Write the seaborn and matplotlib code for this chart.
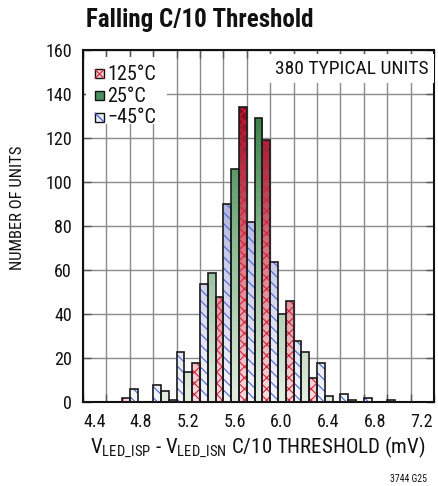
import numpy as np
import pandas as pd
import matplotlib
matplotlib.use("Agg")
import matplotlib.pyplot as plt
from matplotlib import font_manager
from matplotlib.colors import LinearSegmentedColormap, to_rgba
from matplotlib.patches import Rectangle
from matplotlib.lines import Line2D
import seaborn as sns

# ---------------- data ----------------
bin_left = [4.4, 4.6, 4.8, 5.0, 5.2, 5.4, 5.6, 5.8, 6.0, 6.2, 6.4, 6.6, 6.8, 7.0, 7.2]
units_m45 = [0, 0, 6, 8, 23, 54, 90, 82, 64, 28, 18, 4, 2, 1, 0]
units_25 = [0, 0, 0, 5, 14, 59, 106, 129, 40, 23, 3, 1, 0, 0, 0]
units_125 = [0, 2, 0, 1, 18, 48, 134, 119, 46, 11, 0, 0, 0, 0, 0]
temps = ["\u221245\u00b0C", "25\u00b0C", "125\u00b0C"]
x_ticks = [4.4, 4.8, 5.2, 5.6, 6.0, 6.4, 6.8, 7.2]
y_ticks = [0, 20, 40, 60, 80, 100, 120, 140, 160]

rows = []
for series, t in zip([units_m45, units_25, units_125], temps):
    for b, v in zip(bin_left, series):
        if v > 0:
            rows.append({"center": round(b + 0.1, 2), "temp": t, "count": v})
df = pd.DataFrame(rows)

# ---------------- style ----------------
sns.set_style("white")
installed = {f.name for f in font_manager.fontManager.ttflist}
narrow = None
for cand in ["Liberation Sans Narrow", "DejaVu Sans Condensed", "Roboto Condensed", "Open Sans Condensed"]:
    if cand in installed:
        narrow = cand
        break
if narrow:
    plt.rcParams["font.family"] = [narrow, "DejaVu Sans"]
    FS_TICK, FS_LEG, FS_NOTE, FS_TITLE, FS_YL, FS_XL = 13, 14.5, 14, 18, 12, 15
else:
    plt.rcParams["font.family"] = ["Liberation Sans", "DejaVu Sans"]
    FS_TICK, FS_LEG, FS_NOTE, FS_TITLE, FS_YL, FS_XL = 12, 13, 12, 15.5, 10.5, 12
plt.rcParams["mathtext.fontset"] = "custom"
plt.rcParams["hatch.linewidth"] = 0.8

fig = plt.figure(figsize=(4.38, 4.86), dpi=100)
ax = fig.add_axes([83 / 438, 1 - 402.3 / 486, (434 - 83) / 438, (402.3 - 50.3) / 486])

sns.barplot(data=df, x="center", y="count", hue="temp", hue_order=temps,
            native_scale=True, width=1.0, dodge=True, ax=ax, legend=False,
            palette=["#a0a8d8", "#4a9060", "#c03050"], errorbar=None)

cmaps = {
    temps[0]: LinearSegmentedColormap.from_list("b", ["#f6f6fc", "#c4c9e8", "#7c84c4"]),
    temps[1]: LinearSegmentedColormap.from_list("g", ["#e4eee2", "#8ebb94", "#2c7a3e"]),
    temps[2]: LinearSegmentedColormap.from_list("r", ["#f9dde0", "#d8707e", "#7e0018"]),
}
hatches = {temps[0]: "\\\\\\", temps[1]: "", temps[2]: "xxx"}
hatch_col = {temps[0]: "#4a66d4", temps[1]: "#000000", temps[2]: "#d0203c"}
GMAX = 140.0

for cont, t in zip(ax.containers, temps):
    for bar in cont:
        h = bar.get_height()
        x0 = bar.get_x()
        x1 = x0 + bar.get_width()
        grad = np.linspace(0, min(h / GMAX, 1.0), 128).reshape(-1, 1)
        im = ax.imshow(grad, extent=[x0, x1, 0, h], origin="lower", cmap=cmaps[t],
                       vmin=0, vmax=1, aspect="auto", interpolation="bilinear", zorder=2)
        im.set_clip_path(bar)
        bar.set_facecolor("none")
        bar.set_edgecolor("#1a1a1a")
        bar.set_linewidth(1.2)
        bar.set_zorder(3)
        if hatches[t]:
            bar.set_hatch(hatches[t])
            bar._hatch_color = to_rgba(hatch_col[t])

# ---------------- axes ----------------
ax.set_xlim(4.4, 7.4)
ax.set_ylim(0, 160)
ax.set_aspect("auto")
ax.set_xticks(x_ticks)
ax.set_xticks(np.arange(4.6, 7.4, 0.4), minor=True)
ax.set_xticklabels([f"{v:.1f}" for v in x_ticks])
ax.set_yticks(y_ticks)
ax.set_yticklabels([str(v) for v in y_ticks])
for lab in ax.get_xticklabels():
    lab.set_horizontalalignment("left")
ax.tick_params(axis="both", which="both", direction="in", length=6, width=1.0,
               color="#555555", top=True, right=True, bottom=True, left=True,
               labelsize=FS_TICK, labelcolor="#111111")
ax.tick_params(axis="x", which="major", pad=8)
ax.tick_params(axis="y", which="major", pad=8)
ax.set_axisbelow(True)
ax.grid(True, which="both", axis="x", color="#8a8a8a", linewidth=1.0)
ax.grid(True, which="major", axis="y", color="#8a8a8a", linewidth=1.0)
for s in ax.spines.values():
    s.set_visible(True)
    s.set_color("#111111")
    s.set_linewidth(1.5)
ax.set_xlabel("")
ax.set_ylabel("")

# ---------------- legend (manual) ----------------
fx = lambda px: px / 438
fy = lambda py: 1 - py / 486
ax.add_patch(Rectangle((fx(86), fy(124)), 81 / 438, 67 / 486, transform=fig.transFigure,
                       facecolor="white", edgecolor="none", zorder=4))
leg_rows = [(temps[2], 74.0), (temps[1], 96.0), (temps[0], 117.5)]
leg_face = {temps[0]: "#eef0fa", temps[1]: "#4a9060", temps[2]: "#f6c8cc"}
for t, yc in leg_rows:
    x0p, x1p = 95, 104
    y0p, y1p = yc - 4.5, yc + 4.5
    fig.add_artist(Rectangle((fx(x0p), fy(y1p)), fx(x1p) - fx(x0p), fy(y0p) - fy(y1p),
                             transform=fig.transFigure, facecolor=leg_face[t],
                             edgecolor="#111111", linewidth=1.0, zorder=6))
    if t == temps[2]:
        fig.add_artist(Line2D([fx(x0p), fx(x1p)], [fy(y0p), fy(y1p)], transform=fig.transFigure,
                              color="#d0203c", linewidth=0.8, zorder=7))
        fig.add_artist(Line2D([fx(x0p), fx(x1p)], [fy(y1p), fy(y0p)], transform=fig.transFigure,
                              color="#d0203c", linewidth=0.8, zorder=7))
    elif t == temps[0]:
        fig.add_artist(Line2D([fx(x0p), fx(x1p)], [fy(y0p), fy(y1p)], transform=fig.transFigure,
                              color="#3a58d0", linewidth=0.9, zorder=7))
    fig.text(fx(107), fy(yc), t, ha="left", va="center", fontsize=FS_LEG, color="#111111", zorder=7)

# ---------------- annotations ----------------
ax.text(0.983, 0.948, "380 TYPICAL UNITS", transform=ax.transAxes, ha="right", va="center",
        fontsize=FS_NOTE, color="#111111", zorder=5,
        bbox=dict(boxstyle="square,pad=0.3", facecolor="white", edgecolor="none"))

fig.text(fx(86), fy(27.3), "Falling C/10 Threshold", ha="left", va="baseline",
         fontsize=FS_TITLE, fontweight="bold", color="#111111")
fig.text(fx(18), fy(208), "NUMBER OF UNITS", rotation=90, ha="center", va="center",
         fontsize=FS_YL, color="#111111")
fig.text(fx(258), fy(453.3),
         r"V$_{\mathregular{LED\_ISP}}$ - V$_{\mathregular{LED\_ISN}}$ C/10 THRESHOLD (mV)",
         ha="center", va="baseline", fontsize=FS_XL, color="#111111")
fig.text(fx(427), fy(479), "3744 G25", ha="right", va="center", fontsize=7, color="#111111")

fig.savefig("out.png", dpi=100)
